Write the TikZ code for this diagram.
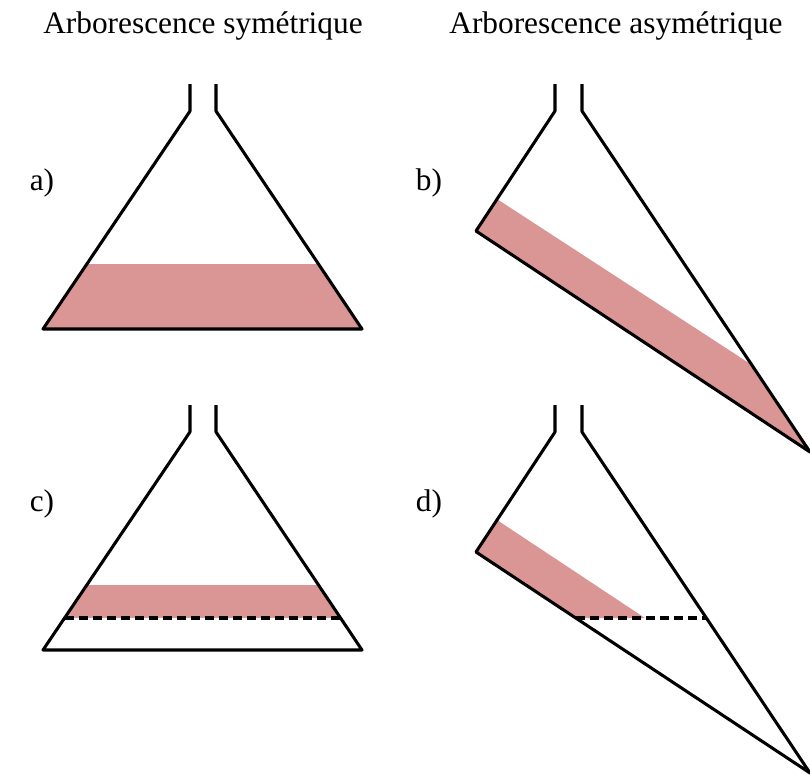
\documentclass[tikz,border=0pt]{standalone}
\usepackage{fontspec}
\setmainfont{Liberation Serif}
\usepackage{tikz}
\definecolor{bandpink}{RGB}{217,150,148}

\begin{document}
\begin{tikzpicture}[
  x=0.75pt, y=-0.75pt,
  every node/.style={font=\fontsize{23.5}{28}\selectfont, inner sep=0pt},
  title/.style={anchor=base},
  tag/.style={anchor=base},
  wall/.style={line width=2.3pt, line join=round},
  band/.style={fill=bandpink},
  level/.style={line width=2.3pt, dash pattern=on 7pt off 3.5pt},
]
\useasboundingbox (0,0) rectangle (810,776);

%% Column titles
\node[title] (sym)  at (203,33) {Arborescence symétrique};
\node[title] (asym) at (616,33) {Arborescence asymétrique};

%% Panel tags
\node[tag] (tag-a) at (42,190)  {a)};
\node[tag] (tag-b) at (429,190) {b)};
\node[tag] (tag-c) at (42,511)  {c)};
\node[tag] (tag-d) at (429,511) {d)};

%% a) symmetric, full band
\begin{scope}
  \clip (190,111) -- (43,329) -- (362,329) -- (216,111) -- cycle;
  \fill[bandpink] (0,264) rectangle (400,329);
\end{scope}
\draw[wall] (190,84) -- (190,111) -- (43,329) -- (362,329) -- (216,111) -- (216,84);

%% b) asymmetric, band along the long side
\fill[band] (476,231) -- (497,199) -- (752,365) -- (810,452) -- cycle;
\draw[wall] (555,84) -- (555,111) -- (476,231) -- (810,452) -- (582,111) -- (582,84);

%% c) symmetric, band above a level
\begin{scope}
  \clip (190,432) -- (43,650) -- (362,650) -- (216,432) -- cycle;
  \fill[bandpink] (0,585) rectangle (400,618);
\end{scope}
\draw[wall] (190,405) -- (190,432) -- (43,650) -- (362,650) -- (216,432) -- (216,405);
\draw[level] (65,618) -- (340,618);

%% d) asymmetric, band cut at the same level
\fill[band] (476,552) -- (497,520) -- (645,618) -- (576,618) -- cycle;
\draw[wall] (555,405) -- (555,432) -- (476,552) -- (810,773) -- (582,432) -- (582,405);
\draw[level] (576,618) -- (706,618);

\end{tikzpicture}
\end{document}
